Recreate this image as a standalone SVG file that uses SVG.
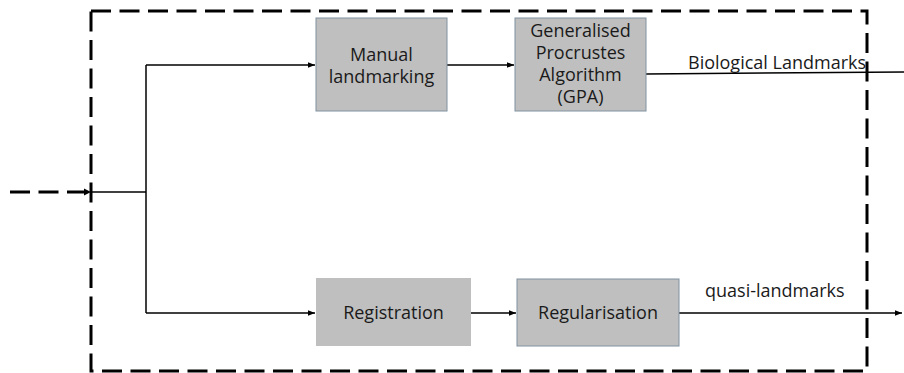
<svg xmlns="http://www.w3.org/2000/svg" width="904" height="373" viewBox="0 0 904 373">
<style>
.box{fill:#bfbfbf;stroke:#8090a0;stroke-width:1}
.nob{fill:#bfbfbf;stroke:none}
.t{font-family:"Open Sans","Liberation Sans",sans-serif;font-size:18px;fill:#1a1a1a;text-anchor:middle}
.tl{font-family:"Open Sans","Liberation Sans",sans-serif;font-size:18px;fill:#1a1a1a}
.ln{fill:none;stroke:#000;stroke-width:1.5}
.dash{fill:none;stroke:#000;stroke-width:3;stroke-dasharray:20 8.5}
</style>
<defs>
<marker id="ah" viewBox="0 0 10 10" refX="10" refY="5" markerWidth="7" markerHeight="7" markerUnits="userSpaceOnUse" orient="auto">
<path d="M0,1 L10,5 L0,9 z" fill="#000"/>
</marker>
</defs>
<rect width="904" height="373" fill="#fff"/>
<g id="boundary">
<path class="dash" d="M91,11 H867 V371 H91 Z"/>
</g>
<g id="connectors">
<path class="dash" d="M10,192 H84"/>
<path d="M84,188.5 L91,192 L84,195.5 z" fill="#000"/>
<path class="ln" d="M91,192 H146"/>
<path class="ln" d="M146,65 V313"/>
<path class="ln" d="M146,65 H315" marker-end="url(#ah)"/>
<path class="ln" d="M447,65 H514" marker-end="url(#ah)"/>
<path class="ln" d="M646,74 L904,72"/>
<path class="ln" d="M146,313 H315" marker-end="url(#ah)"/>
<path class="ln" d="M471,313 H516" marker-end="url(#ah)"/>
<path class="ln" d="M679,313 H902" marker-end="url(#ah)"/>
<text class="tl" x="688" y="69">Biological Landmarks</text>
<text class="tl" x="705" y="297">quasi-landmarks</text>
</g>
<g id="manual">
<rect class="box" x="316" y="18" width="131" height="93"/>
<text class="t" x="381.5" y="61">Manual</text>
<text class="t" x="381.5" y="83">landmarking</text>
</g>
<g id="gpa">
<rect class="box" x="515" y="18" width="131" height="93"/>
<text class="t" x="580.5" y="37">Generalised</text>
<text class="t" x="580.5" y="59">Procrustes</text>
<text class="t" x="580.5" y="81">Algorithm</text>
<text class="t" x="580.5" y="103">(GPA)</text>
</g>
<g id="registration">
<rect class="nob" x="316" y="278" width="155" height="68"/>
<text class="t" x="393.5" y="318.5">Registration</text>
</g>
<g id="regularisation">
<rect class="box" x="517" y="279" width="162" height="67"/>
<text class="t" x="598" y="318.5">Regularisation</text>
</g>
</svg>
